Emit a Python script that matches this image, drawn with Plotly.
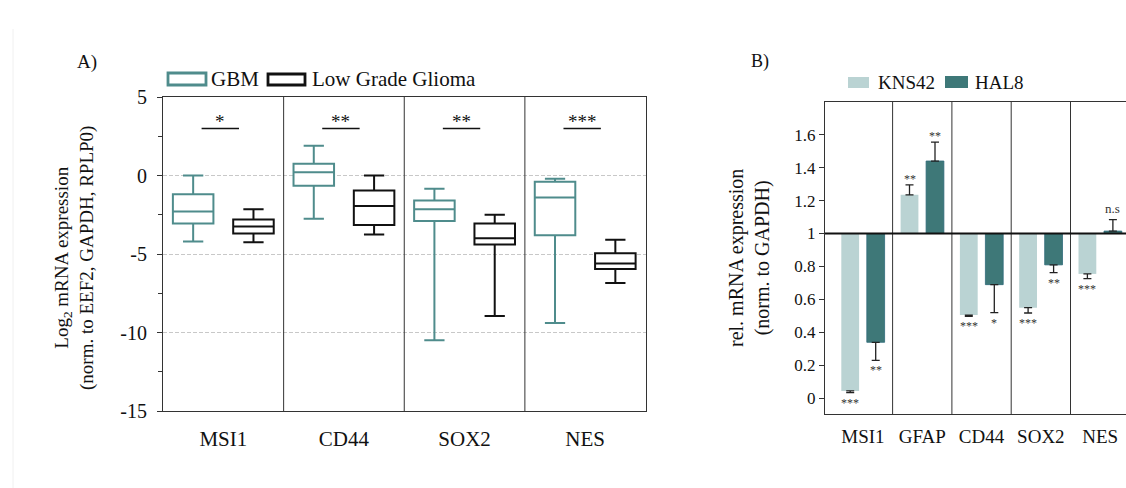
import plotly.graph_objects as go

W, H = 1126, 488
FONT = "Liberation Serif"

# ---------------- Panel A: qPCR expression in tissue (box summaries) ----------------
genes_a = ["MSI1", "CD44", "SOX2", "NES"]
gbm_low = [-4.2, -2.75, -10.5, -9.4]
gbm_q1 = [-3.05, -0.65, -2.9, -3.8]
gbm_med = [-2.3, 0.2, -2.15, -1.4]
gbm_q3 = [-1.2, 0.75, -1.6, -0.4]
gbm_high = [0.0, 1.9, -0.85, -0.2]
lgg_low = [-4.25, -3.75, -8.95, -6.85]
lgg_q1 = [-3.7, -3.15, -4.4, -5.95]
lgg_med = [-3.25, -1.95, -4.0, -5.6]
lgg_q3 = [-2.8, -0.95, -3.05, -4.95]
lgg_high = [-2.15, 0.0, -2.5, -4.1]
sig_a = ["*", "**", "**", "***"]

# ---------------- Panel B: relative expression in cell lines ----------------
genes_b = ["MSI1", "GFAP", "CD44", "SOX2", "NES"]
kns42 = [0.045, 1.235, 0.505, 0.55, 0.755]
kns42_err = [0.01, 0.06, 0.007, 0.032, 0.028]
hal8 = [0.34, 1.44, 0.69, 0.81, 1.015]
hal8_err = [0.11, 0.115, 0.17, 0.047, 0.07]
kns42_sig = ["***", "**", "***", "***", "***"]
hal8_sig = ["**", "**", "*", "**", "n.s"]

TEAL = "#4f8c8c"
KNS_COL = "#bad3d3"
HAL_COL = "#3e7878"
AXC = "#333333"


def fx(p):
    return p / W


def fy(p):
    return 1 - p / H


fig = go.Figure()

# box plots, A
off_a, box_w = 0.25, 0.336
for stats, col, sgn in [
    ((gbm_low, gbm_q1, gbm_med, gbm_q3, gbm_high), TEAL, -1),
    ((lgg_low, lgg_q1, lgg_med, lgg_q3, lgg_high), "#111111", 1),
]:
    lo, q1, md, q3, hi = stats
    fig.add_trace(go.Box(
        x=[i + 0.5 + sgn * off_a for i in range(len(genes_a))],
        lowerfence=lo, q1=q1, median=md, q3=q3, upperfence=hi,
        width=box_w, whiskerwidth=0.5, fillcolor="white",
        line=dict(color=col, width=2), boxpoints=False,
        hoverinfo="skip", xaxis="x", yaxis="y", showlegend=False,
    ))

# bars, B (drawn from the baseline of 1)
off_b, bar_w = 0.215, 0.3
series_b = [(kns42, kns42_err, KNS_COL, -1, "rgba(0,0,0,0)"),
            (hal8, hal8_err, HAL_COL, 1, "#2f6a7a")]
for vals, errs, col, sgn, edge in series_b:
    xs = [i + sgn * off_b for i in range(len(genes_b))]
    fig.add_trace(go.Bar(
        x=xs, y=[v - 1 for v in vals], base=1, width=bar_w,
        marker=dict(color=col, line=dict(color=edge, width=0.8)),
        xaxis="x2", yaxis="y2", showlegend=False, hoverinfo="skip",
    ))
    fig.add_trace(go.Scatter(
        x=xs, y=vals, mode="markers",
        marker=dict(size=1, color="rgba(0,0,0,0)"),
        error_y=dict(type="data", symmetric=False,
                     array=[e if v >= 1 else 0 for v, e in zip(vals, errs)],
                     arrayminus=[e if v < 1 else 0 for v, e in zip(vals, errs)],
                     color="#222222", thickness=1.3, width=4),
        xaxis="x2", yaxis="y2", showlegend=False, hoverinfo="skip",
    ))

shapes = []
annotations = []

# panel A separators between genes
for i in range(1, len(genes_a)):
    shapes.append(dict(type="line", xref="x", yref="y domain", x0=i, x1=i, y0=0, y1=1,
                       line=dict(color=AXC, width=1)))

# significance brackets, A
for i, s in enumerate(sig_a):
    c = i + 0.5
    shapes.append(dict(type="line", xref="x", yref="y", x0=c - 0.18, x1=c + 0.13, y0=3.0, y1=3.0,
                       line=dict(color="#111111", width=1.5)))
    annotations.append(dict(x=c - 0.025, y=3.0, xref="x", yref="y", text=s, showarrow=False,
                            yanchor="bottom", yshift=-6, font=dict(family=FONT, size=19, color="#111111")))

# panel B separators and baseline at 1
for i in range(len(genes_b) - 1):
    shapes.append(dict(type="line", xref="x2", yref="y2 domain", x0=i + 0.5, x1=i + 0.5, y0=0, y1=1,
                       line=dict(color=AXC, width=1)))
shapes.append(dict(type="line", xref="x2 domain", yref="y2", x0=0, x1=1, y0=1, y1=1,
                   line=dict(color="#111111", width=2)))

# significance labels, B
for vals, errs, sigs, sgn in [(kns42, kns42_err, kns42_sig, -1), (hal8, hal8_err, hal8_sig, 1)]:
    for i, (v, e, s) in enumerate(zip(vals, errs, sigs)):
        up = v >= 1
        ns = s == "n.s"
        annotations.append(dict(
            x=i + sgn * off_b, y=v + e if up else v - e, xref="x2", yref="y2", text=s,
            showarrow=False, yanchor="bottom" if up else "top",
            yshift=(2 if ns else -3) if up else -1,
            font=dict(family=FONT, size=13 if ns else 12, color="#333333")))

# custom legends
shapes += [
    dict(type="rect", xref="paper", yref="paper", x0=fx(168), x1=fx(206), y0=fy(85), y1=fy(73),
         line=dict(color=TEAL, width=2.8), fillcolor="white"),
    dict(type="rect", xref="paper", yref="paper", x0=fx(268), x1=fx(305), y0=fy(85), y1=fy(74),
         line=dict(color="#111111", width=2.8), fillcolor="white"),
    dict(type="rect", xref="paper", yref="paper", x0=fx(848), x1=fx(869), y0=fy(88), y1=fy(77),
         line=dict(width=0), fillcolor=KNS_COL),
    dict(type="rect", xref="paper", yref="paper", x0=fx(945), x1=fx(968), y0=fy(88), y1=fy(76),
         line=dict(width=0), fillcolor=HAL_COL),
    dict(type="line", xref="paper", yref="paper", x0=fx(13), x1=fx(13), y0=fy(29), y1=0,
         line=dict(color="#f0f0f0", width=1)),
]


def label(x, y, text, size, anchor="left", angle=0):
    annotations.append(dict(x=fx(x), y=fy(y), xref="paper", yref="paper", text=text,
                            showarrow=False, xanchor=anchor, yanchor="middle", textangle=angle,
                            font=dict(family=FONT, size=size, color="#111111")))


label(209, 79, "GBM", 21)
label(310, 79, "Low Grade Glioma", 21)
label(876, 82, "KNS42", 19)
label(973, 82, "HAL8", 19)
label(75, 62, "A)", 19)
label(749, 62, "B)", 18)
label(74, 258, "Log<sub>2</sub> mRNA expression<br>(norm. to EEF2, GAPDH, RPLP0)", 19, "center", -90)
label(749, 258, "rel. mRNA expression<br>(norm. to GAPDH)", 20, "center", -90)

fig.update_layout(
    template="none",
    width=W, height=H, margin=dict(l=0, r=0, t=0, b=0, pad=0),
    paper_bgcolor="white", plot_bgcolor="white",
    font=dict(family=FONT, size=18, color="#111111"),
    boxmode="overlay", barmode="overlay", showlegend=False,
    shapes=shapes, annotations=annotations,
    xaxis=dict(domain=[fx(163), fx(645.5)], range=[0, len(genes_a)], automargin=False,
               tickvals=[i + 0.5 for i in range(len(genes_a))], ticktext=genes_a,
               showline=True, mirror=True, linecolor=AXC, linewidth=1,
               ticks="", showgrid=False, zeroline=False, fixedrange=True,
               tickfont=dict(size=21), ticklabelstandoff=9),
    yaxis=dict(domain=[fy(411), fy(97)], range=[-15, 5], automargin=False,
               tickvals=[-15, -10, -5, 0, 5], ticktext=["-15", "-10", "-5", "0", "5"],
               showline=True, mirror=True, linecolor=AXC, linewidth=1,
               ticks="outside", ticklen=5, tickcolor=AXC,
               showgrid=True, gridcolor="#c8c8c8", griddash="4px,2px", gridwidth=0.8,
               minor=dict(tickvals=[-12.5, -7.5, -2.5, 2.5], ticks="outside", ticklen=4,
                          tickcolor=AXC, showgrid=False),
               zeroline=False, tickfont=dict(size=20), ticklabelstandoff=6),
    xaxis2=dict(domain=[fx(825), 1.0], range=[-0.64, 4.436], anchor="y2", automargin=False,
                tickvals=list(range(len(genes_b))), ticktext=genes_b,
                showline=True, mirror=True, linecolor=AXC, linewidth=1,
                ticks="", showgrid=False, zeroline=False,
                tickfont=dict(size=19), ticklabelstandoff=5),
    yaxis2=dict(domain=[fy(414), fy(101.7)], range=[-0.095, 1.8], anchor="x2", automargin=False,
                tickvals=[0, 0.2, 0.4, 0.6, 0.8, 1, 1.2, 1.4, 1.6],
                ticktext=["0", "0.2", "0.4", "0.6", "0.8", "1", "1.2", "1.4", "1.6"],
                showline=True, mirror=False, linecolor=AXC, linewidth=1,
                ticks="outside", ticklen=5, tickcolor=AXC,
                showgrid=False, zeroline=False, tickfont=dict(size=17)),
)

fig.write_html("out.html")
